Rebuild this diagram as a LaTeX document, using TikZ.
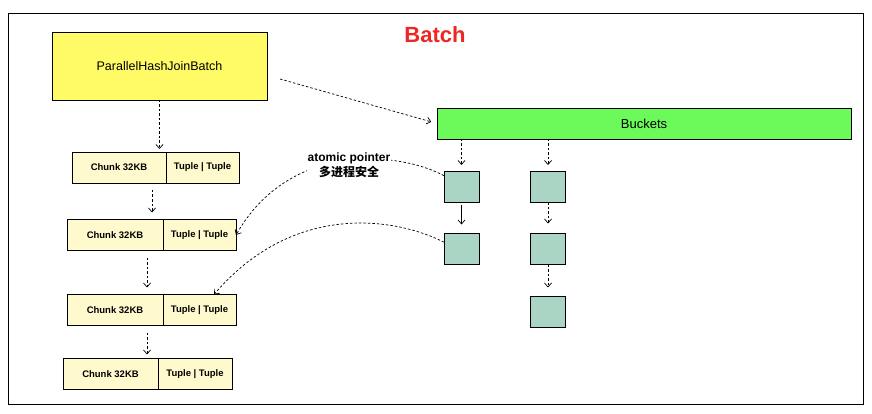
\documentclass[tikz,border=0pt]{standalone}
\usepackage{fontspec}
\setmainfont{Liberation Sans}
\newfontfamily\cjkfont{Noto Sans CJK SC}
\usetikzlibrary{arrows.meta,calc}

\definecolor{joinyellow}{RGB}{255,251,102}
\definecolor{bucketgreen}{RGB}{108,250,90}
\definecolor{chunkyellow}{RGB}{255,250,205}
\definecolor{slotgreen}{RGB}{170,212,195}
\definecolor{titlered}{RGB}{238,38,36}

\begin{document}
\begin{tikzpicture}[x=1pt,y=1pt,yscale=-1,xscale=1,
  box/.style={draw,line width=0.8pt,inner sep=0pt,outer sep=0pt},
  chunkbox/.style={box,fill=chunkyellow,minimum height=31pt,font=\fontsize{9.5}{11}\selectfont\bfseries},
  slot/.style={box,fill=slotgreen,minimum width=35pt,minimum height=31pt},
  link/.style={line width=0.7pt,-{Straight Barb[length=4pt,width=7pt]}},
  dlink/.style={link,dash pattern={on 2.5pt off 2pt}}]
\useasboundingbox (0,0) rectangle (872,414);

%Frame
\draw [line width=0.8pt] (8,13) rectangle (863,404);
% Title
\node (title) at (435,35) [text=titlered,font=\fontsize{22}{26}\selectfont\bfseries] {Batch};

%Shape: join batch
\node (batchjoin) at (159.5,66) [box,fill=joinyellow,minimum width=215pt,minimum height=68pt,font=\fontsize{12.5}{15}\selectfont] {ParallelHashJoinBatch};
%Shape: buckets
\node (buckets) at (644,123.5) [box,fill=bucketgreen,minimum width=414pt,minimum height=31pt,font=\fontsize{13}{15}\selectfont] {Buckets};

%Chunks
\node (c1a) at (119,167.5) [chunkbox,minimum width=94pt] {Chunk 32KB};
\node (c1b) at (202.5,167.5) [chunkbox,minimum width=73pt] {Tuple | Tuple};
\node (c2a) at (115,235) [chunkbox,minimum width=96pt] {Chunk 32KB};
\node (c2b) at (199.5,235) [chunkbox,minimum width=73pt] {Tuple | Tuple};
\node (c3a) at (115,310) [chunkbox,minimum width=96pt] {Chunk 32KB};
\node (c3b) at (199.5,310) [chunkbox,minimum width=73pt] {Tuple | Tuple};
\node (c4a) at (110.5,374) [chunkbox,minimum width=95pt] {Chunk 32KB};
\node (c4b) at (195,374) [chunkbox,minimum width=74pt] {Tuple | Tuple};

%Bucket slots
\node (sq11) at (461.5,186.5) [slot] {};
\node (sq12) at (461.5,249) [slot] {};
\node (sq21) at (548,186.5) [slot] {};
\node (sq22) at (548,249) [slot] {};
\node (sq23) at (548,312) [slot] {};

%Straight Lines
\draw [dlink,shorten >=3pt] (batchjoin.south) -- (batchjoin.south |- c1a.north);
\draw [dlink,shorten <=7pt,shorten >=7pt] ([xshift=-14pt]c1a.south east) -- ([xshift=-14pt]c1a.south east |- c2a.north);
\draw [dlink,shorten <=7pt,shorten >=7pt] ([xshift=-16pt]c2a.south east) -- ([xshift=-16pt]c2a.south east |- c3a.north);
\draw [dlink,shorten <=7pt,shorten >=4pt] ([xshift=-16pt]c3a.south east) -- ([xshift=-16pt]c3a.south east |- c4a.north);
\draw [dlink,shorten >=6pt] ($(batchjoin.east)+(13,13)$) -- (buckets.west);

\draw [dlink,shorten >=6pt] (buckets.south -| sq11.north) -- (sq11.north);
\draw [dlink,shorten >=6pt] (buckets.south -| sq21.north) -- (sq21.north);
\draw [link,shorten <=3pt,shorten >=9pt] (sq11.south) -- (sq12.north);
\draw [dlink,shorten >=10pt] (sq21.south) -- (sq22.north);
\draw [dlink,shorten >=9pt] (sq22.south) -- (sq23.north);

%Curves
\draw [dlink] ($(sq11.north west)!0.15!(sq11.south west)$) .. controls (400,152) and (290,140) .. (c2b.east);
\draw [dlink] ($(sq12.north west)!0.28!(sq12.south west)$) .. controls (390,215) and (290,205) .. ($(c3b.north)!0.4!(c3b.north east)$);

% Text Node
\node (atomic) at (349,165.5) [fill=white,inner sep=0.5pt,align=center,font=\fontsize{12}{15}\selectfont\bfseries] {atomic pointer\\{\cjkfont 多进程安全}};

\end{tikzpicture}
\end{document}
